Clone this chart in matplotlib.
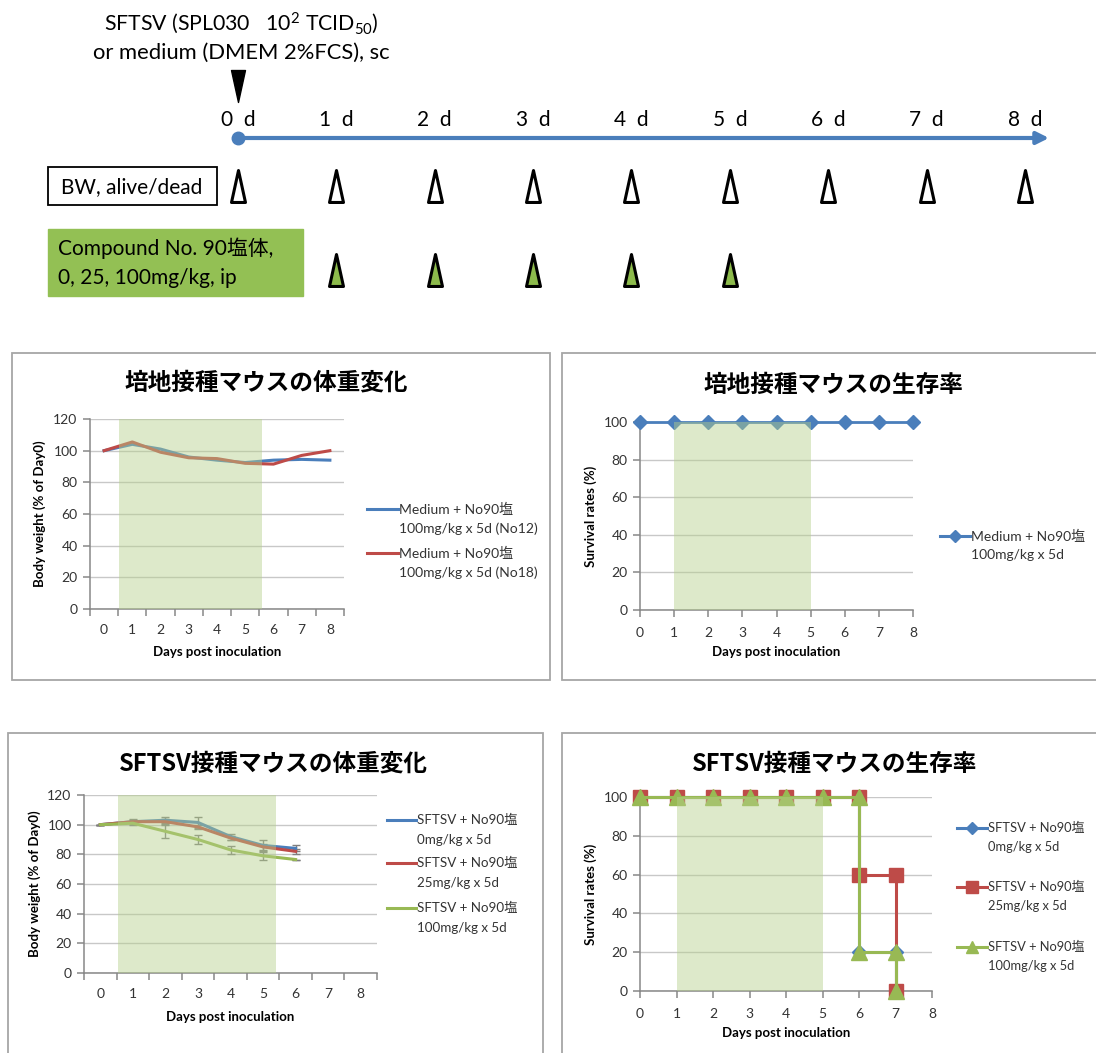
import numpy as np
import matplotlib
matplotlib.use('Agg')
import matplotlib.pyplot as plt
from matplotlib.path import Path
from matplotlib.patches import Rectangle
from matplotlib.lines import Line2D

plt.rcParams['font.family'] = ['Lato', 'Noto Sans CJK JP']
plt.rcParams['mathtext.fontset'] = 'custom'
plt.rcParams['mathtext.rm'] = 'Lato'
plt.rcParams['mathtext.it'] = 'Lato:italic'
plt.rcParams['mathtext.bf'] = 'Lato:bold'

# ---------------- data ----------------
timeline_days = [0, 1, 2, 3, 4, 5, 6, 7, 8]
bw_days = [0, 1, 2, 3, 4, 5, 6, 7, 8]
dose_days = [1, 2, 3, 4, 5]

p1_days = [0, 1, 2, 3, 4, 5, 6, 7, 8]
p1_no12 = [100, 104, 101, 96, 94, 92.5, 94, 94.5, 94]
p1_no18 = [100, 105.5, 99, 95.5, 95, 92, 91.5, 97, 100]
p1_labels = ["Medium + No90塩\n100mg/kg x 5d (No12)",
             "Medium + No90塩\n100mg/kg x 5d (No18)"]

p2_days = [0, 1, 2, 3, 4, 5, 6, 7, 8]
p2_surv = [100, 100, 100, 100, 100, 100, 100, 100, 100]
p2_label = "Medium + No90塩\n100mg/kg x 5d"

p3_days = [0, 1, 2, 3, 4, 5, 6]
p3_0mg = [100, 102, 103, 101.5, 92, 86, 84]
p3_0mg_err = [0, 1.5, 2, 3.5, 2, 3.5, 2]
p3_25mg = [100, 102, 102, 98.5, 91, 85, 82]
p3_25mg_err = [0, 1, 1.5, 1.5, 1.5, 2, 1.5]
p3_100mg = [100, 101, 95.5, 90, 83, 79, 76.5]
p3_100mg_err = [0, 1, 4.5, 3, 2.5, 2.5, 0]
p3_labels = ["SFTSV + No90塩\n0mg/kg x 5d",
             "SFTSV + No90塩\n25mg/kg x 5d",
             "SFTSV + No90塩\n100mg/kg x 5d"]

p4_x = [0, 1, 2, 3, 4, 5, 6, 6, 7, 7]
p4_0mg = [100, 100, 100, 100, 100, 100, 100, 20, 20, 0]
p4_25mg = [100, 100, 100, 100, 100, 100, 100, 60, 60, 0]
p4_100mg = [100, 100, 100, 100, 100, 100, 100, 20, 20, 0]

yticks_bw = [0, 20, 40, 60, 80, 100, 120]
yticks_sv = [0, 20, 40, 60, 80, 100]
xticks = [0, 1, 2, 3, 4, 5, 6, 7, 8]

# ---------------- styles ----------------
BLUE = '#4a7ebb'
RED = '#be4b48'
GREEN = '#98b954'
SHADE = '#b5cf8a'
GRID = '#c8c8c8'
AXC = '#878787'
TXT = '#333333'

W, H = 1096, 1053
fig = plt.figure(figsize=(W / 100, H / 100), dpi=100)


def px_axes(x0, y0, x1, y1, **kw):
    return fig.add_axes([x0 / W, 1 - y1 / H, (x1 - x0) / W, (y1 - y0) / H], **kw)


bg = px_axes(0, 0, W, H)
bg.set_xlim(0, W)
bg.set_ylim(H, 0)
bg.axis('off')

# ---------------- timeline ----------------
d0, d8 = 238, 1025
step = (d8 - d0) / 8
tl = px_axes(0, 0, W, 310)
tl.set_xlim(-d0 / step, (W - d0) / step)
tl.set_ylim(310, 0)
tl.axis('off')

tl.text(0.03, 23, r"SFTSV (SPL030   10$^{2}$ TCID$_{50}$)", ha='center', va='center',
        fontsize=15.3, color='black')
tl.text(0.03, 53, "or medium (DMEM 2%FCS), sc", ha='center', va='center',
        fontsize=15.8, color='black')

up_tri = Path([(-7, -16), (7, -16), (0, 16), (-7, -16)],
              [Path.MOVETO, Path.LINETO, Path.LINETO, Path.CLOSEPOLY])
down_tri = Path([(-7, 16), (7, 16), (0, -16), (-7, 16)],
                [Path.MOVETO, Path.LINETO, Path.LINETO, Path.CLOSEPOLY])

tl.plot([0], [86], ls='none', marker=down_tri, ms=23, mfc='black', mec='black')
for d in timeline_days:
    tl.text(d, 120, f"{d}  d", ha='center', va='center', fontsize=15, color='black')
tl.annotate('', xy=((1049 - d0) / step, 138), xytext=(0, 138),
            arrowprops=dict(arrowstyle='-|>', color=BLUE, lw=3, mutation_scale=18,
                            shrinkA=0, shrinkB=0))
tl.plot([0], [138], 'o', ms=9, color=BLUE)
tl.plot(bw_days, [186] * len(bw_days), ls='none', marker=up_tri, ms=23,
        mfc='white', mec='black', mew=2.2)
tl.plot(dose_days, [270] * len(dose_days), ls='none', marker=up_tri, ms=23,
        mfc='#8dbb4c', mec='black', mew=2.2)

bg.add_patch(Rectangle((48, 167), 169, 38, fc='white', ec='black', lw=1.3))
bg.text(132, 187, "BW, alive/dead", ha='center', va='center', fontsize=15)
bg.add_patch(Rectangle((48, 229), 255, 67, fc='#93c054', ec='#93c054', lw=1))
bg.text(58, 248, "Compound No. 90塩体,", ha='left', va='center', fontsize=15)
bg.text(58, 278, "0, 25, 100mg/kg, ip", ha='left', va='center', fontsize=15)

# ---------------- panel frames / titles ----------------
for (x0, y0, x1, y1) in [(12, 353, 550, 680), (562, 353, 1100, 680),
                         (8, 733, 543, 1070), (562, 733, 1100, 1070)]:
    bg.add_patch(Rectangle((x0, y0), x1 - x0, y1 - y0, fc='white', ec='#a6a6a6', lw=1.3))

title_kw = dict(ha='center', va='center', fontsize=17, fontweight='bold',
                family=['Noto Sans CJK JP'])
bg.text(266, 383, "培地接種マウスの体重変化", **title_kw)
bg.text(833, 385, "培地接種マウスの生存率", **title_kw)
bg.text(273, 764, "SFTSV接種マウスの体重変化", **title_kw)
bg.text(835, 764, "SFTSV接種マウスの生存率", **title_kw)

lab_kw = dict(ha='center', va='center', fontsize=9.5, fontweight='bold', color='black')
bg.text(40, 514, "Body weight (% of Day0)", rotation=90, **lab_kw)
bg.text(217, 652, "Days post inoculation", **lab_kw)
bg.text(591, 516, "Survival rates (%)", rotation=90, **lab_kw)
bg.text(776, 652, "Days post inoculation", **lab_kw)
bg.text(35, 884, "Body weight (% of Day0)", rotation=90, **lab_kw)
bg.text(230, 1017, "Days post inoculation", **lab_kw)
bg.text(591, 894, "Survival rates (%)", rotation=90, **lab_kw)
bg.text(786, 1033, "Days post inoculation", **lab_kw)


def style(ax):
    ax.set_facecolor('none')
    for s in ['top', 'right']:
        ax.spines[s].set_visible(False)
    for s in ['left', 'bottom']:
        ax.spines[s].set_color(AXC)
        ax.spines[s].set_linewidth(1.1)
    ax.yaxis.grid(True, color=GRID, lw=1)
    ax.set_axisbelow(True)
    ax.tick_params(axis='both', which='both', color=AXC, labelcolor=TXT,
                   labelsize=10, length=5, width=1.1)
    ax.tick_params(axis='x', pad=7)
    ax.tick_params(axis='y', pad=4)


def category_axis(ax):
    ax.set_xlim(-0.5, 8.5)
    ax.set_xticks(xticks)
    ax.tick_params(axis='x', which='major', length=0, pad=10.5)
    ax.set_xticks(np.arange(-0.5, 9.0, 1.0), minor=True)
    ax.tick_params(axis='x', which='minor', length=5)


# ---------------- panel 1 ----------------
ax1 = px_axes(90, 419, 344, 609)
style(ax1)
category_axis(ax1)
ax1.set_ylim(0, 120)
ax1.set_yticks(yticks_bw)
ax1.plot(p1_days, p1_no12, color=BLUE, lw=2.2, zorder=3)
ax1.plot(p1_days, p1_no18, color=RED, lw=2.2, zorder=3)
ax1.axvspan(0.52, 5.6, ymin=0, ymax=1, color=SHADE, alpha=0.45, lw=0, zorder=5)

# ---------------- panel 2 ----------------
ax2 = px_axes(640, 422, 913, 610)
style(ax2)
ax2.set_xlim(0, 8)
ax2.set_ylim(0, 100)
ax2.set_xticks(xticks)
ax2.set_yticks(yticks_sv)
ax2.plot(p2_days, p2_surv, color=BLUE, lw=2, marker='D', ms=7, clip_on=False, zorder=3)
ax2.axvspan(1, 5, color=SHADE, alpha=0.45, lw=0, zorder=5)

# ---------------- panel 3 ----------------
ax3 = px_axes(84, 795, 377, 973)
style(ax3)
category_axis(ax3)
ax3.set_ylim(0, 120)
ax3.set_yticks(yticks_bw)
for vals, err, c in [(p3_0mg, p3_0mg_err, BLUE), (p3_25mg, p3_25mg_err, RED),
                     (p3_100mg, p3_100mg_err, GREEN)]:
    ax3.errorbar(p3_days, vals, yerr=err, color=c, lw=2.2, ecolor='#7f7f7f',
                 elinewidth=1, capsize=3, capthick=1, zorder=3)
ax3.axvspan(0.55, 5.4, color=SHADE, alpha=0.45, lw=0, zorder=5)

# ---------------- panel 4 ----------------
ax4 = px_axes(640, 797, 932, 991)
style(ax4)
ax4.set_xlim(0, 8)
ax4.set_ylim(0, 100)
ax4.set_xticks(xticks)
ax4.set_yticks(yticks_sv)
ax4.plot(p4_x, p4_0mg, color=BLUE, lw=2.2, marker='D', ms=7, clip_on=False, zorder=3)
ax4.plot(p4_x, p4_25mg, color=RED, lw=2.2, marker='s', ms=10, clip_on=False, zorder=3)
ax4.plot(p4_x, p4_100mg, color=GREEN, lw=2.2, marker='^', ms=11, clip_on=False, zorder=3)
ax4.axvspan(1, 5, color=SHADE, alpha=0.45, lw=0, zorder=5)


# ---------------- legends ----------------
def legend_entry(x0, x1, y, color, label, fs, marker=None, ms=7, gap=19):
    bg.add_line(Line2D([x0, x1], [y, y], color=color, lw=2.2))
    if marker:
        bg.add_line(Line2D([(x0 + x1) / 2], [y], color=color, marker=marker, ms=ms, ls='none'))
    for i, line in enumerate(label.split('\n')):
        bg.text(x1 + 1, y + i * gap, line, ha='left', va='center', fontsize=fs, color=TXT)


legend_entry(367, 398, 509, BLUE, p1_labels[0], 10, gap=20)
legend_entry(367, 398, 553, RED, p1_labels[1], 10, gap=20)
legend_entry(940, 970, 536, BLUE, p2_label, 10, marker='D', ms=6)
legend_entry(387, 416, 820, BLUE, p3_labels[0], 9.6, gap=20)
legend_entry(387, 416, 863, RED, p3_labels[1], 9.6, gap=20)
legend_entry(387, 416, 908, GREEN, p3_labels[2], 9.6, gap=20)
legend_entry(957, 987, 828, BLUE, p3_labels[0], 9.3, marker='D', ms=6)
legend_entry(957, 987, 887, RED, p3_labels[1], 9.3, marker='s', ms=8)
legend_entry(957, 987, 947, GREEN, p3_labels[2], 9.3, marker='^', ms=9)

fig.savefig('out.png', dpi=100)
